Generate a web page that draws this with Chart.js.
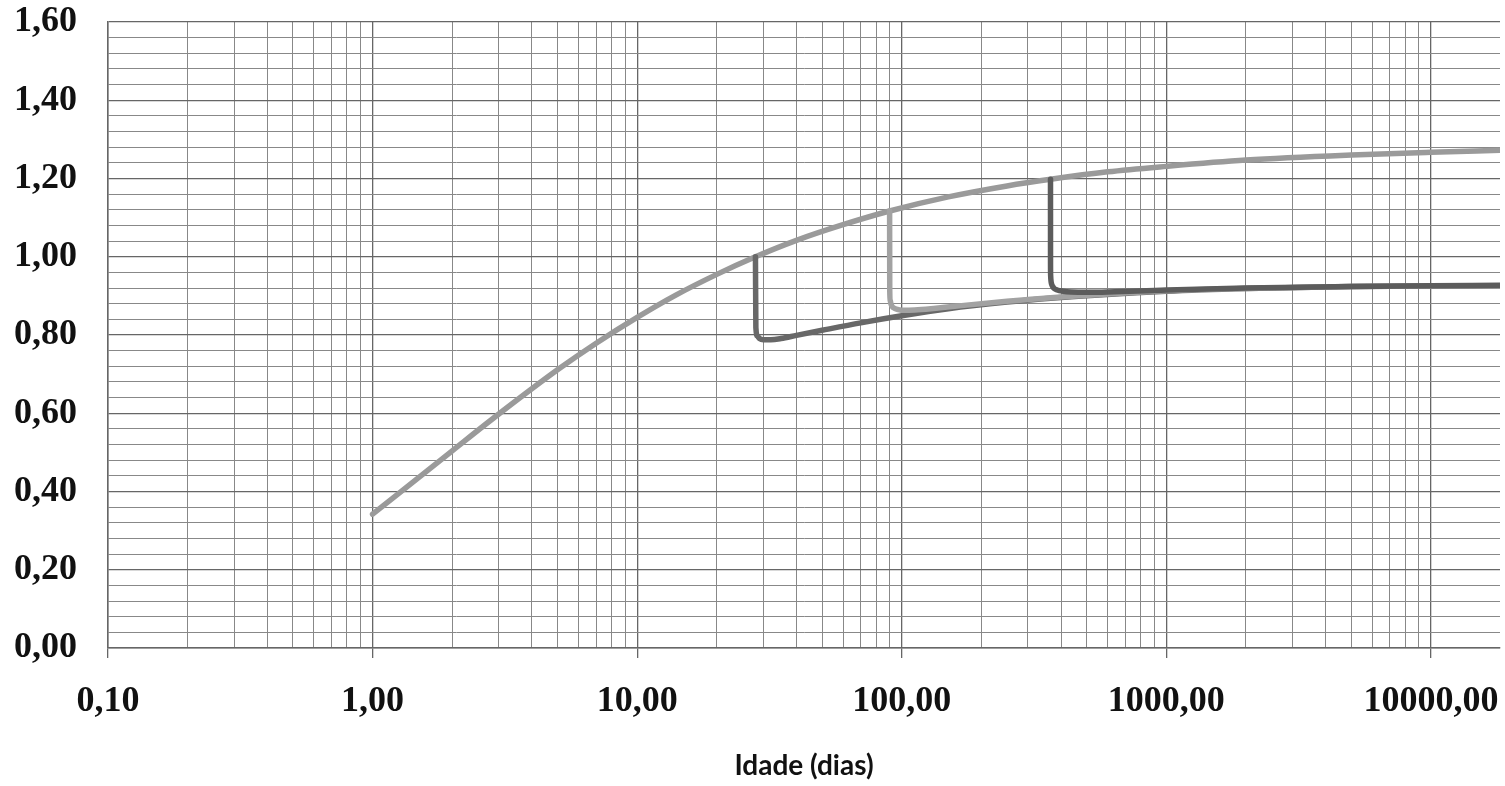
<!DOCTYPE html>
<html lang="pt">
<head>
<meta charset="utf-8">
<title>Idade (dias)</title>
<script src="https://cdn.jsdelivr.net/npm/chart.js@4.4.1/dist/chart.umd.min.js"></script>
<style>
  html, body { margin: 0; padding: 0; background: #ffffff; }
  #wrap { width: 1505px; height: 786px; position: relative; background: #ffffff; }
</style>
</head>
<body>
<div id="wrap"><canvas id="chart" width="1505" height="786"></canvas></div>
<script>
// Strength growth curve (age in days, relative value)
const ageBase = [1, 2, 3, 5, 7, 10, 14, 20, 28, 40, 60, 90, 150, 250, 365, 600, 1000, 2000, 5000, 10000, 18250];
const valueBase = [0.342, 0.504, 0.598, 0.711, 0.779, 0.845, 0.902, 0.955, 1.000, 1.042, 1.082, 1.117, 1.153, 1.181, 1.198, 1.217, 1.231, 1.247, 1.260, 1.267, 1.272];

// Sustained load applied at 28 days
const age28 = [28, 28.1, 28.5, 29, 30, 32, 35, 40, 50, 70, 100, 150, 250, 365, 1000, 2000, 5000, 10000, 18250];
const value28 = [1.000, 0.819, 0.797, 0.791, 0.788, 0.788, 0.791, 0.799, 0.812, 0.831, 0.849, 0.867, 0.884, 0.894, 0.912, 0.919, 0.924, 0.925, 0.925];

// Sustained load applied at 90 days
const age90 = [90, 90.1, 90.5, 91, 92, 94, 97, 102, 112, 132, 162, 250, 365, 1000, 2000, 5000, 10000, 18250];
const value90 = [1.117, 0.914, 0.888, 0.880, 0.873, 0.868, 0.865, 0.863, 0.864, 0.868, 0.874, 0.886, 0.895, 0.913, 0.919, 0.924, 0.925, 0.925];

// Sustained load applied at 365 days
const age365 = [365, 365.1, 365.5, 366, 367, 369, 372, 377, 387, 407, 437, 500, 1000, 2000, 5000, 10000, 18250];
const value365 = [1.198, 0.980, 0.952, 0.944, 0.936, 0.929, 0.924, 0.919, 0.915, 0.912, 0.910, 0.909, 0.915, 0.920, 0.924, 0.926, 0.927];

// Axis ticks
const xTickValues = [0.1, 1, 10, 100, 1000, 10000];
const xTickLabels = ['0,10', '1,00', '10,00', '100,00', '1000,00', '10000,00'];
const xMinorMultipliers = [2, 3, 4, 5, 6, 7, 8, 9];
const yTickValues = [0, 0.2, 0.4, 0.6, 0.8, 1.0, 1.2, 1.4, 1.6];
const yTickLabels = ['0,00', '0,20', '0,40', '0,60', '0,80', '1,00', '1,20', '1,40', '1,60'];
const yMinorStep = 0.04;

const xTitle = 'Idade (dias)';

const LIGHT = '#9a9a9a';
const LIGHTER = '#a2a2a2';
const DARK = '#686868';
const DARKER = '#5c5c5c';
const GRID_MAJOR = '#666666';
const GRID_MINOR = '#888888';

const toPoints = (xs, ys) => xs.map((x, i) => ({ x: x, y: ys[i] }));

// Gridline positions for the log axis: decades plus 2..9 inside each decade
const xGrid = [];
xTickValues.forEach(d => {
  xGrid.push(d);
  if (d < 10000) xMinorMultipliers.forEach(m => xGrid.push(Math.round(d * m * 1000) / 1000));
});

const yGrid = [];
for (let i = 0; i <= Math.round(1.6 / yMinorStep); i++) yGrid.push(Math.round(i * yMinorStep * 100) / 100);

const isXMajor = v => xTickValues.some(t => Math.abs(t - v) < 1e-9);
const yMajorIndex = v => yTickValues.findIndex(t => Math.abs(t - v) < 1e-9);

const lineStyle = (color, width) => ({
  borderColor: color,
  backgroundColor: color,
  borderWidth: width,
  pointRadius: 0,
  fill: false,
  cubicInterpolationMode: 'monotone',
  borderCapStyle: 'round',
  borderJoinStyle: 'round'
});

const tickFont = { family: '"Liberation Serif", "Times New Roman", serif', size: 36, weight: 'bold' };

new Chart(document.getElementById('chart'), {
  type: 'line',
  data: {
    datasets: [
      Object.assign({ label: '365', data: toPoints(age365, value365) }, lineStyle(DARKER, 5.5)),
      Object.assign({ label: '90', data: toPoints(age90, value90) }, lineStyle(LIGHTER, 5.5)),
      Object.assign({ label: '28', data: toPoints(age28, value28) }, lineStyle(DARK, 5.5)),
      Object.assign({ label: 'base', data: toPoints(ageBase, valueBase) }, lineStyle(LIGHT, 5.5))
    ]
  },
  options: {
    responsive: false,
    animation: false,
    devicePixelRatio: 1,
    layout: { padding: { left: 0, right: 5, top: 22, bottom: 0 } },
    plugins: { legend: { display: false }, tooltip: { enabled: false } },
    scales: {
      x: {
        type: 'logarithmic',
        min: 0.1,
        max: 18250,
        afterBuildTicks: s => { s.ticks = xGrid.map(v => ({ value: v, major: isXMajor(v) })); },
        afterFit: s => { s.height = 138; s.paddingLeft = 0; s.paddingRight = 0; },
        ticks: {
          autoSkip: false,
          maxRotation: 0,
          minRotation: 0,
          padding: 22,
          color: '#111111',
          font: tickFont,
          callback: v => {
            const i = xTickValues.findIndex(t => Math.abs(t - v) < 1e-9);
            return i >= 0 ? xTickLabels[i] : '';
          }
        },
        grid: {
          drawOnChartArea: true,
          tickLength: 10,
          color: ctx => (ctx.tick && isXMajor(ctx.tick.value)) ? GRID_MAJOR : GRID_MINOR,
          tickColor: ctx => (ctx.tick && isXMajor(ctx.tick.value)) ? GRID_MAJOR : 'rgba(0,0,0,0)',
          lineWidth: ctx => (ctx.tick && isXMajor(ctx.tick.value)) ? 1.3 : 1
        },
        border: { display: true, color: GRID_MAJOR, width: 1.5 },
        title: {
          display: true,
          text: xTitle,
          color: '#111111',
          font: { family: 'Lato, "Open Sans", sans-serif', size: 28, weight: 'bold' },
          padding: { top: 0, bottom: 3 }
        }
      },
      y: {
        type: 'linear',
        min: 0,
        max: 1.6,
        afterBuildTicks: s => { s.ticks = yGrid.map(v => ({ value: v, major: yMajorIndex(v) >= 0 })); },
        afterFit: s => { s.width = 108; s.paddingTop = 0; s.paddingBottom = 0; },
        ticks: {
          autoSkip: false,
          padding: 31,
          color: '#111111',
          font: tickFont,
          callback: v => {
            const i = yMajorIndex(v);
            return i >= 0 ? yTickLabels[i] : '';
          }
        },
        grid: {
          drawTicks: false,
          color: ctx => (ctx.tick && yMajorIndex(ctx.tick.value) >= 0) ? GRID_MAJOR : GRID_MINOR,
          lineWidth: ctx => (ctx.tick && yMajorIndex(ctx.tick.value) >= 0) ? 1.3 : 1
        },
        border: { display: true, color: GRID_MAJOR, width: 1.5 }
      }
    }
  }
});
</script>
</body>
</html>
